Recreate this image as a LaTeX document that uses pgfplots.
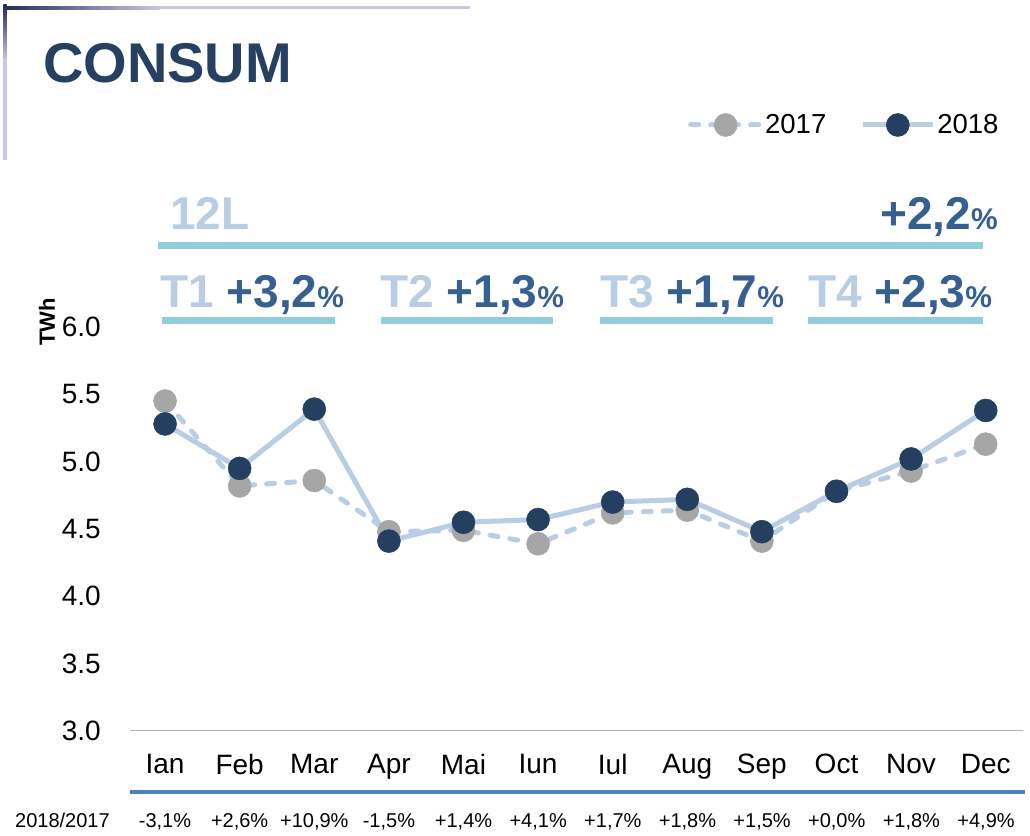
\documentclass[border=0pt]{standalone}
\usepackage{fontspec}
\setmainfont{Liberation Sans}
\usepackage{pgfplots}
\usepackage{pgfplotstable}
\pgfplotsset{compat=1.18}
\definecolor{navy}{HTML}{243F60}
\definecolor{ttl}{HTML}{254061}
\definecolor{lineblue}{HTML}{B9CDE5}
\definecolor{grey17}{HTML}{A6A6A6}
\definecolor{tealbar}{HTML}{92CDDC}
\definecolor{pctblue}{HTML}{376092}
\definecolor{barblue}{HTML}{4F81BD}
\definecolor{lav}{HTML}{CCC6E0}
\definecolor{darkdeco}{HTML}{1F2B5E}

\pgfplotstableread{
m y17 y18
0 5.45 5.28
1 4.82 4.95
2 4.86 5.39
3 4.48 4.41
4 4.49 4.55
5 4.39 4.57
6 4.62 4.70
7 4.64 4.72
8 4.41 4.48
9 4.78 4.78
10 4.93 5.02
11 5.13 5.38
}\consum

\begin{document}
\begin{tikzpicture}
\path[use as bounding box] (0bp,0bp) rectangle (1030bp,836bp);
\begin{scope}[x=1bp,y=1bp]
% decoration
\shade[left color=darkdeco, right color=lav] (3,826.5) rectangle (160,829.5);
\fill[lav] (160,826.5) rectangle (470,829.5);
\shade[top color=darkdeco, bottom color=lav] (3.5,776) rectangle (6.5,831);
\fill[lav] (3.5,676) rectangle (6.5,776);
% title
\node[anchor=base west, inner sep=0, text=ttl, font=\fontsize{56bp}{60bp}\selectfont\bfseries] at (43,753) {CONSUM};
% header
\node[anchor=base west, inner sep=0, text=lineblue, font=\fontsize{46bp}{50bp}\selectfont\bfseries] at (170,606) {12L};
\node[anchor=base east, inner sep=0, text=pctblue, font=\fontsize{46bp}{50bp}\selectfont\bfseries] at (998,606) {+2,2{\fontsize{30bp}{30bp}\selectfont\%}};
\fill[tealbar] (158,586.5) rectangle (983,593.5);
\foreach \q/\v/\xx/\xa/\xb in {T1/{+3,2}/160/162/335, T2/{+1,3}/380/381/553, T3/{+1,7}/600/600/773, T4/{+2,3}/808/808/983}{
  \node[anchor=base west, inner sep=0, font=\fontsize{46bp}{50bp}\selectfont\bfseries] at (\xx,528) {\textcolor{lineblue}{\q} \textcolor{pctblue}{\v{\fontsize{30bp}{30bp}\selectfont\%}}};
  \fill[tealbar] (\xa,511.5) rectangle (\xb,518.5);
}
% bottom band
\fill[barblue] (130,42) rectangle (1025,46);
\node[anchor=base west, inner sep=0, font=\fontsize{20bp}{22bp}\selectfont] at (15,9) {2018/2017};
\foreach \p [count=\i from 0] in {{-3,1},{+2,6},{+10,9},{-1,5},{+1,4},{+4,1},{+1,7},{+1,8},{+1,5},{+0,0},{+1,8},{+4,9}}{
  \node[anchor=base, inner sep=0, font=\fontsize{20bp}{22bp}\selectfont] at ({165+74.64*\i},9) {\p\%};
}
\end{scope}
\begin{axis}[
  at={(130bp,105bp)}, anchor=south west,
  scale only axis, width=893bp, height=404bp,
  xmin=-0.47, xmax=11.5, ymin=3, ymax=6,
  clip=false,
  axis x line*=bottom, axis y line*=left,
  y axis line style={draw=none},
  x axis line style={draw=gray!60, line width=1bp},
  major tick length=0pt,
  xtick={0,...,11},
  xticklabels={Ian,Feb,Mar,Apr,Mai,Iun,Iul,Aug,Sep,Oct,Nov,Dec},
  ytick={3,3.5,...,6},
  tick label style={font=\fontsize{28bp}{30bp}\selectfont, inner sep=0pt},
  xticklabel style={anchor=north, yshift=-23bp},
  yticklabel style={anchor=east, xshift=-29bp, /pgf/number format/.cd, fixed, fixed zerofill, precision=1, assume math mode=true},
  ylabel={TWh},
  ylabel style={at={(axis description cs:-0.093,1.012)}, anchor=center, font=\fontsize{22bp}{24bp}\selectfont\bfseries},
  legend columns=2,
  legend style={at={(axis description cs:0.975,1.5)}, anchor=east, draw=none, fill=none, inner sep=0pt,
    font=\fontsize{27.5bp}{29bp}\selectfont,
    /tikz/every even column/.append style={column sep=32bp}},
  legend image code/.code={\draw[mark repeat=2,mark phase=2,#1] plot coordinates {(0bp,0bp) (35bp,0bp) (70bp,0bp)};},
]
\addplot[color=lineblue, line width=5bp, dash pattern=on 8bp off 12bp, line cap=round,
  mark=*, mark size=11.5bp, mark options={solid, fill=grey17, draw=grey17, line width=0.5bp}] table[x=m, y=y17] {\consum};
\addlegendentry{2017}
\addplot[color=lineblue, line width=5bp, line join=round,
  mark=*, mark size=11.5bp, mark options={solid, fill=navy, draw=navy, line width=0.5bp}] table[x=m, y=y18] {\consum};
\addlegendentry{2018}
\end{axis}
\end{tikzpicture}
\end{document}
